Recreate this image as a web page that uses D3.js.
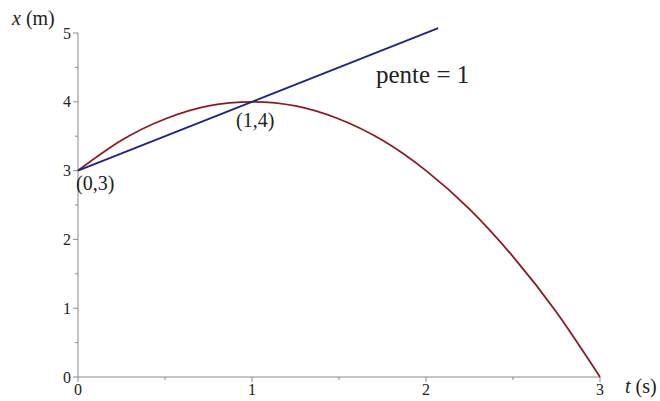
<!DOCTYPE html>
<html>
<head>
<meta charset="utf-8">
<script src="https://cdn.jsdelivr.net/npm/d3@7"></script>
<style>
  html, body { margin: 0; padding: 0; background: #fff; }
  svg { display: block; }
  text { font-family: "Liberation Serif", "DejaVu Serif", serif; fill: #222; }
</style>
</head>
<body>
<svg id="chart" width="660" height="401"></svg>
<script>
// Position x (m) against time t (s)
const curveT = [0, 0.25, 0.5, 0.75, 1, 1.25, 1.5, 1.75, 2, 2.25, 2.5, 2.75, 3];
const curveX = [3, 3.44, 3.75, 3.94, 4, 3.94, 3.75, 3.44, 3, 2.44, 1.75, 0.94, 0];

// Tangent line through (1,4), slope 1
const tangentT = [0, 2.07];
const tangentX = [3, 5.07];

const xTicks = [0, 1, 2, 3];
const xMinor = [0.5, 1.5, 2.5];
const yTicks = [0, 1, 2, 3, 4, 5];
const yMinor = [0.5, 1.5, 2.5, 3.5, 4.5];

const pointLabels = ["(0,3)", "(1,4)"];
const slopeLabel = "pente = 1";

const svg = d3.select("#chart");
const x = d3.scaleLinear().domain([0, 3]).range([78, 600]);
const y = d3.scaleLinear().domain([0, 5]).range([377, 33]);

const axisColor = "#8a8a8a";

// x axis
const gx = svg.append("g").attr("transform", `translate(0,${y(0)})`);
gx.append("line").attr("x1", x(0)).attr("x2", x(3)).attr("stroke", axisColor);
gx.selectAll(".maj").data(xTicks).join("line")
  .attr("x1", d => x(d)).attr("x2", d => x(d)).attr("y1", 0).attr("y2", 5)
  .attr("stroke", axisColor);
gx.selectAll(".min").data(xMinor).join("line")
  .attr("x1", d => x(d)).attr("x2", d => x(d)).attr("y1", 0).attr("y2", 3)
  .attr("stroke", axisColor);
gx.selectAll("text").data(xTicks).join("text")
  .attr("x", d => x(d)).attr("y", 18).attr("text-anchor", "middle")
  .attr("font-size", 16).text(d => d);

// y axis
const gy = svg.append("g").attr("transform", `translate(${x(0)},0)`);
gy.append("line").attr("y1", y(0)).attr("y2", y(5)).attr("stroke", axisColor);
gy.selectAll(".maj").data(yTicks).join("line")
  .attr("y1", d => y(d)).attr("y2", d => y(d)).attr("x1", -5).attr("x2", 0)
  .attr("stroke", axisColor);
gy.selectAll(".min").data(yMinor).join("line")
  .attr("y1", d => y(d)).attr("y2", d => y(d)).attr("x1", -3).attr("x2", 0)
  .attr("stroke", axisColor);
gy.selectAll("text").data(yTicks).join("text")
  .attr("x", -7).attr("y", d => y(d)).attr("dy", "0.35em").attr("text-anchor", "end")
  .attr("font-size", 16).text(d => d);

// axis titles
const yTitle = svg.append("text").attr("x", 12).attr("y", 25).attr("font-size", 20);
yTitle.append("tspan").attr("font-style", "italic").text("x");
yTitle.append("tspan").text(" (m)");
const xTitle = svg.append("text").attr("x", 625).attr("y", 393).attr("font-size", 20);
xTitle.append("tspan").attr("font-style", "italic").text("t");
xTitle.append("tspan").text(" (s)");

// curves
const curveData = curveT.map((t, i) => [t, curveX[i]]);
const tangentData = tangentT.map((t, i) => [t, tangentX[i]]);

svg.append("path")
  .datum(curveData)
  .attr("fill", "none").attr("stroke", "#8b1a22").attr("stroke-width", 1.8)
  .attr("d", d3.line().x(d => x(d[0])).y(d => y(d[1])).curve(d3.curveNatural));

svg.append("path")
  .datum(tangentData)
  .attr("fill", "none").attr("stroke", "#1b2585").attr("stroke-width", 1.8)
  .attr("d", d3.line().x(d => x(d[0])).y(d => y(d[1])));

// annotations
svg.append("text").attr("x", x(0) - 2).attr("y", y(3) + 19)
  .attr("font-size", 20).text(pointLabels[0]);
svg.append("text").attr("x", x(1) - 16).attr("y", y(4) + 25)
  .attr("font-size", 20).text(pointLabels[1]);
svg.append("text").attr("x", 376).attr("y", 83)
  .attr("font-size", 25).text(slopeLabel);
</script>
</body>
</html>
